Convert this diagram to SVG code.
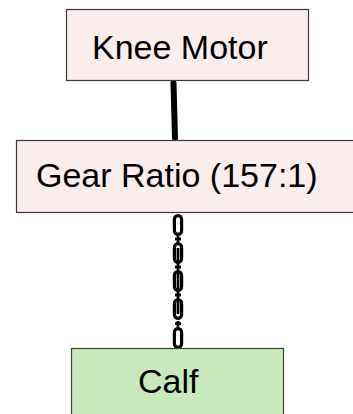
<svg xmlns="http://www.w3.org/2000/svg" width="353" height="414" viewBox="0 0 353 414">
  <style>
    .box { stroke: #3c3c3c; stroke-width: 1.2; }
    .pink { fill: #f9eded; }
    .green { fill: #c9e9bd; }
    .label { font-family: "Liberation Sans", Arial, sans-serif; font-size: 34px; fill: #000; }
    .shaft { stroke: #000; stroke-width: 6; stroke-linecap: round; fill: none; }
    .link { fill: none; stroke: #000; stroke-width: 3.2; }
    .bar { stroke: #000; stroke-width: 2.8; stroke-linecap: butt; }
  </style>
  <defs>
    <!-- one chain link seen face-on -->
    <rect id="ring" x="-3.6" y="-9.4" width="7.2" height="18.8" rx="3.6" ry="3.6" class="link"/>
  </defs>

  <g id="connectors">
    <!-- rigid shaft: motor to gearbox -->
    <line class="shaft" x1="173.5" y1="83" x2="175" y2="138"/>
    <!-- chain: gearbox to calf -->
    <g id="chain" transform="translate(178,0)">
      <use href="#ring" y="225"/>
      <use href="#ring" y="253"/>
      <use href="#ring" y="281"/>
      <use href="#ring" y="309"/>
      <use href="#ring" y="338"/>
      <!-- edge-on links through the middle rings -->
      <line class="bar" x1="0" y1="233" x2="0" y2="245"/>
      <line class="bar" x1="0" y1="248" x2="0" y2="314"/>
      <line class="bar" x1="0" y1="321" x2="0" y2="330"/>
      <line class="bar" x1="-3" y1="267" x2="3" y2="267"/>
      <line class="bar" x1="-3" y1="295" x2="3" y2="295"/>
      <line class="bar" x1="-3" y1="239" x2="3" y2="239"/>
      <line class="bar" x1="-3" y1="323.5" x2="3" y2="323.5"/>
    </g>
  </g>

  <g id="knee-motor">
    <rect class="box pink" x="66.5" y="9.5" width="242" height="71"/>
    <text class="label" x="92" y="59">Knee Motor</text>
  </g>

  <g id="gear-ratio">
    <rect class="box pink" x="16.5" y="140.5" width="360" height="72"/>
    <text class="label" x="36" y="187">Gear Ratio (157:1)</text>
  </g>

  <g id="calf">
    <rect class="box green" x="71.5" y="348.5" width="212" height="80"/>
    <text class="label" x="138" y="393">Calf</text>
  </g>
</svg>
